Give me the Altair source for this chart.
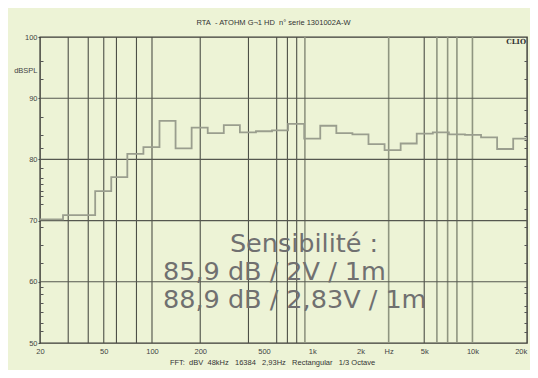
import altair as alt
import pandas as pd
import numpy as np

# 1/3-octave band centres (Hz) and measured levels (dB SPL)
bands = [20, 25, 31.5, 40, 50, 63, 80, 100, 125, 160, 200, 250, 315, 400, 500,
         630, 800, 1000, 1250, 1600, 2000, 2500, 3150, 4000, 5000, 6300, 8000,
         10000, 12500, 16000, 20000]
levels = [70.2, 70.2, 70.9, 70.9, 74.8, 77.1, 80.9, 82.0, 86.3, 81.8, 85.2, 84.3,
          85.6, 84.4, 84.6, 84.75, 85.8, 83.4, 85.5, 84.3, 84.1, 82.5, 81.5, 82.6,
          84.2, 84.4, 84.1, 84.0, 83.6, 81.7, 83.4]

# vertical grid lines (Hz)
grid_dark = [30, 40, 50, 60, 80, 100, 200, 400, 600, 700, 800, 5000]
grid_light = [900, 3000, 6000, 7000, 8000, 10000]
# horizontal grid lines (dB)
grid_db = [60, 70, 80, 90]
y_major = [50, 60, 70, 80, 90, 100]
left_minor = [96.1, 93.1, 86.9, 84.0, 81.9, 78.6, 77.0, 75.9, 74.9, 74.0, 72.7,
              69.0, 66.0, 63.0, 59.2, 58.0, 56.6, 55.0, 53.2, 51.9]
right_minor = [96.1, 93.1, 88.0, 86.0, 83.9, 83.1, 81.9, 79.0, 74.9, 71.9, 69.0,
               66.0, 63.1, 59.2, 58.1, 56.0, 55.1, 53.2, 51.8]
x_tick_vals = [20, 50, 100, 200, 500, 1000, 2000, 3000, 5000, 10000, 20000]
x_tick_labels = ["20", "50", "100", "200", "500", "1k", "2k", "Hz", "5k", "10k", "20k"]

BG = "#EDF3D6"
FONT = "Liberation Sans"

# step path built from band edges
rows = []
for i, (c, v) in enumerate(zip(bands, levels)):
    n = round(3 * np.log2(c / 1000.0))
    ce = 1000.0 * 2 ** (n / 3.0)
    rows.append({"f": ce * 2 ** (-1 / 6), "db": v, "o": 2 * i})
    rows.append({"f": ce * 2 ** (1 / 6), "db": v, "o": 2 * i + 1})
step_df = pd.DataFrame(rows)

expr = "''"
for v, l in reversed(list(zip(x_tick_vals, x_tick_labels))):
    expr = f"datum.value == {v} ? '{l}' : ({expr})"

xscale = alt.Scale(type="log", domain=[20, 21900], nice=False)
yscale = alt.Scale(domain=[50, 100], nice=False, zero=False)

xaxis = alt.Axis(values=x_tick_vals, labelExpr=expr, ticks=False, grid=False,
                 domain=False, labelFont=FONT, labelFontSize=7.5, labelColor="#444",
                 labelPadding=4, labelFlush=False,
                 title="FFT:\u00a0 dBV\u00a0 48kHz\u00a0\u00a0 16384\u00a0\u00a0 2,93Hz\u00a0\u00a0 Rectangular\u00a0\u00a0 1/3 Octave",
                 titleFont=FONT, titleFontSize=7.5, titleFontWeight="normal",
                 titleColor="#333", titleX=232, titleY=19, titleBaseline="middle",
                 titleAlign="center")
yaxis = alt.Axis(values=y_major, ticks=True, tickSize=2, tickColor="#444",
                 grid=False, domain=False, labelFont=FONT, labelFontSize=7.5,
                 labelColor="#444", labelPadding=1,
                 title="dBSPL", titleAngle=0, titleX=-3, titleY=33,
                 titleAlign="right", titleBaseline="middle", titleFont=FONT,
                 titleFontSize=7.5, titleFontWeight="normal", titleColor="#444")

X = alt.X("f:Q", scale=xscale, axis=xaxis)
Y = alt.Y("db:Q", scale=yscale, axis=yaxis)

vdark = alt.Chart(pd.DataFrame({"f": grid_dark})).mark_rule(
    color="#4d4f47", strokeWidth=1.1).encode(x=X)
vlight = alt.Chart(pd.DataFrame({"f": grid_light})).mark_rule(
    color="#8f9580", strokeWidth=1.6).encode(x=X)
hgrid = alt.Chart(pd.DataFrame({"db": grid_db})).mark_rule(
    color="#55574f", strokeWidth=1.1).encode(y=Y)

line = alt.Chart(step_df).mark_line(
    color="#9a9e8e", strokeWidth=1.8, clip=True).encode(x=X, y=Y, order="o:Q")

clio = alt.Chart(pd.DataFrame({"t": ["CLIO"]})).mark_text(
    font="DejaVu Serif", fontWeight="bold", fontSize=7, color="#333",
    align="right", baseline="middle").encode(
    x=alt.value(486), y=alt.value(5), text="t:N")

tcol = "#707070"
TS = 25.5
t1 = alt.Chart(pd.DataFrame({"t": ["Sensibilité :"]})).mark_text(
    font="DejaVu Sans", fontSize=TS, color=tcol, align="center",
    baseline="alphabetic").encode(x=alt.value(264), y=alt.value(214.7), text="t:N")
t2 = alt.Chart(pd.DataFrame({"t": ["85,9 dB / 2V / 1m"]})).mark_text(
    font="DejaVu Sans", fontSize=TS, color=tcol, align="left",
    baseline="alphabetic").encode(x=alt.value(123), y=alt.value(242.8), text="t:N")
t3 = alt.Chart(pd.DataFrame({"t": ["88,9 dB / 2,83V / 1m"]})).mark_text(
    font="DejaVu Sans", fontSize=TS, color=tcol, align="left",
    baseline="alphabetic").encode(x=alt.value(123), y=alt.value(271.3), text="t:N")

inner = alt.layer(vdark, vlight, hgrid, line, clio, t1, t2, t3)

minor_l = alt.Chart(pd.DataFrame({"db": left_minor})).mark_rule(opacity=0).encode(
    y=alt.Y("db:Q", scale=yscale,
            axis=alt.Axis(orient="left", values=left_minor, labels=False,
                          domain=False, grid=False, tickSize=3, offset=-3,
                          tickColor="#555", title=None)))
minor_r = alt.Chart(pd.DataFrame({"db": right_minor})).mark_rule(opacity=0).encode(
    y=alt.Y("db:Q", scale=yscale,
            axis=alt.Axis(orient="right", values=right_minor, labels=False,
                          domain=False, grid=False, tickSize=3, offset=-3,
                          tickColor="#555", title=None)))

chart = alt.layer(inner, minor_l, minor_r).resolve_axis(y="independent").properties(
    width=487, height=306,
    autosize=alt.AutoSizeParams(type="none"),
    padding={"left": 32, "top": 29, "right": 3, "bottom": 27},
    background=BG,
    title=alt.TitleParams(
        text="RTA\u00a0 - ATOHM G¬1 HD\u00a0 n° serie 1301002A-W",
        font=FONT, fontSize=7.5, fontWeight="normal", color="#333",
        anchor="middle", offset=7, dx=-10),
).configure_view(stroke="#3a3a36", strokeWidth=1.4)

chart.save("out.html", embed_options={"renderer": "svg", "actions": False})
